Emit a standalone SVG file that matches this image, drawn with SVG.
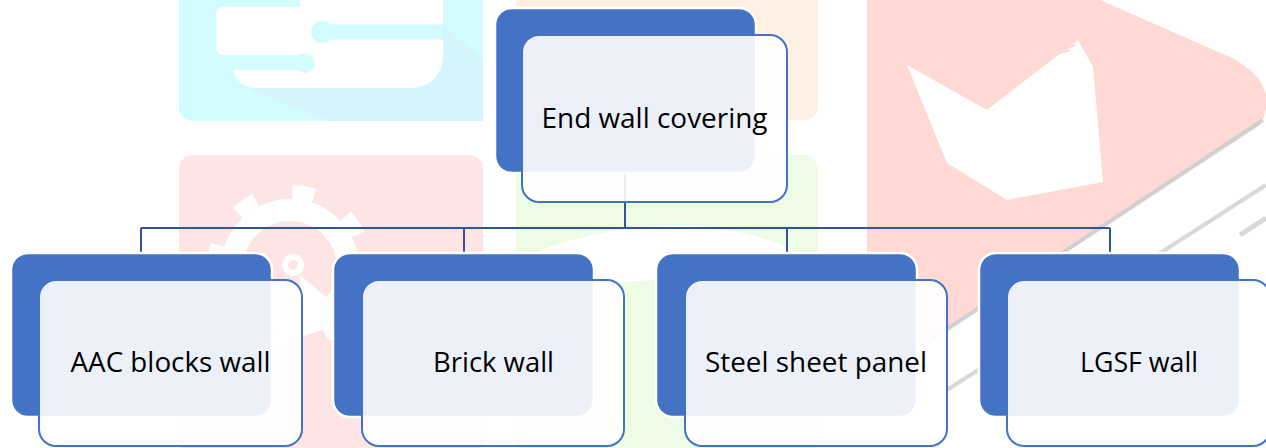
<svg xmlns="http://www.w3.org/2000/svg" width="1266" height="448" viewBox="0 0 1266 448">
<style>
.back{fill:#4472C4;stroke:#FFFFFF;stroke-width:2.5}
.front{fill:#FFFFFF;fill-opacity:0.9;stroke:#4472C4;stroke-width:2}
.lbl{font-family:"Open Sans","Liberation Sans",sans-serif;font-size:28px;fill:#000000;text-anchor:middle}
.conn{fill:none;stroke:#2F5597;stroke-width:2}
.wm-white{fill:#FFFFFF}
</style>
<rect x="0" y="0" width="1266" height="448" fill="#FFFFFF"/>
<g id="watermark">
  <rect x="179" y="-20" width="304" height="141" rx="14" fill="#D2FCFD"/>
  <path d="M250,90 L330,121 H483 V60 L443,25 Z" fill="#D4F5FC"/>
  <rect x="216" y="7" width="92" height="48" rx="7" class="wm-white"/>
  <path d="M300,0 H443 V58 Q440,86 412,88 H252 Q236,84 233,70 H300 Z" class="wm-white"/>
  <path d="M322,32 H443" stroke="#D2FCFD" stroke-width="15"/>
  <circle cx="322" cy="32" r="11" fill="#D2FCFD"/>
  <path d="M216,63 H305" stroke="#D2FCFD" stroke-width="14"/>
  <circle cx="305" cy="63" r="10" fill="#D2FCFD"/>
  <rect x="179" y="155" width="304" height="300" rx="14" fill="#FEE5E5"/>
  <circle cx="290" cy="268" r="76" fill="none" stroke="#FFFFFF" stroke-width="14" stroke-dasharray="22 38"/>
  <circle cx="290" cy="268" r="58" fill="none" stroke="#FFFFFF" stroke-width="22"/>
  <circle cx="293" cy="265" r="11" fill="#FFFFFF"/>
  <circle cx="293" cy="265" r="5" fill="#FEE5E5"/>
  <path d="M300,275 L330,300 L322,330 L300,310 Z" class="wm-white"/>
  <rect x="516" y="-20" width="302" height="140" rx="14" fill="#FFF0E3"/>
  <rect x="516" y="155" width="302" height="300" rx="14" fill="#EEFBE5"/>
  <path d="M540,250 Q620,222 700,226 Q780,236 800,258 L800,300 Q700,270 600,285 Q550,290 540,300 Z" class="wm-white"/>
  <path d="M867,0 H1100 L1232,58 Q1282,85 1260,125 L940,335 Q900,352 867,345 Z" fill="#FFD9D3"/>
  <path d="M907,65 L987,110 L1062,52 L1078,40 L1093,67 L1103,182 L1007,200 L947,163 Z" class="wm-white"/>
  <path d="M985,100 Q1030,60 1075,45 M990,90 Q1030,60 1070,50" fill="none" stroke="#FFD9D3" stroke-width="2"/>
  <path d="M920,347 L1263,120" stroke="#D0D0D0" stroke-width="4"/>
  <path d="M947,390 L1266,185" stroke="#D8D8D8" stroke-width="4"/>
  <path d="M1240,235 L1266,218" stroke="#D8D8D8" stroke-width="5"/>
</g>
<g id="connectors">
  <path class="conn" d="M625,173 V228 M141,228 H1110 M141,228 V253 M464,228 V253 M787,228 V253 M1110,228 V253"/>
</g>
<g id="node-end-wall-covering">
  <rect class="back" x="495" y="8" width="261" height="165" rx="17"/>
  <rect class="front" x="522" y="35" width="265" height="167" rx="17"/>
  <text class="lbl" x="654.5" y="128" textLength="226" lengthAdjust="spacingAndGlyphs">End wall covering</text>
</g>
<g id="node-aac-blocks-wall">
  <rect class="back" x="11" y="253" width="261" height="164" rx="17"/>
  <rect class="front" x="39" y="280" width="263" height="166" rx="17"/>
  <text class="lbl" x="170.5" y="372" textLength="200" lengthAdjust="spacingAndGlyphs">AAC blocks wall</text>
</g>
<g id="node-brick-wall">
  <rect class="back" x="333" y="253" width="261" height="164" rx="17"/>
  <rect class="front" x="362" y="280" width="262" height="166" rx="17"/>
  <text class="lbl" x="493.5" y="372" textLength="121" lengthAdjust="spacingAndGlyphs">Brick wall</text>
</g>
<g id="node-steel-sheet-panel">
  <rect class="back" x="656" y="253" width="261" height="164" rx="17"/>
  <rect class="front" x="685" y="280" width="262" height="166" rx="17"/>
  <text class="lbl" x="816" y="372" textLength="222" lengthAdjust="spacingAndGlyphs">Steel sheet panel</text>
</g>
<g id="node-lgsf-wall">
  <rect class="back" x="979" y="253" width="261" height="164" rx="17"/>
  <rect class="front" x="1007" y="280" width="263" height="166" rx="17"/>
  <text class="lbl" x="1139" y="372" textLength="118" lengthAdjust="spacingAndGlyphs">LGSF wall</text>
</g>
</svg>
